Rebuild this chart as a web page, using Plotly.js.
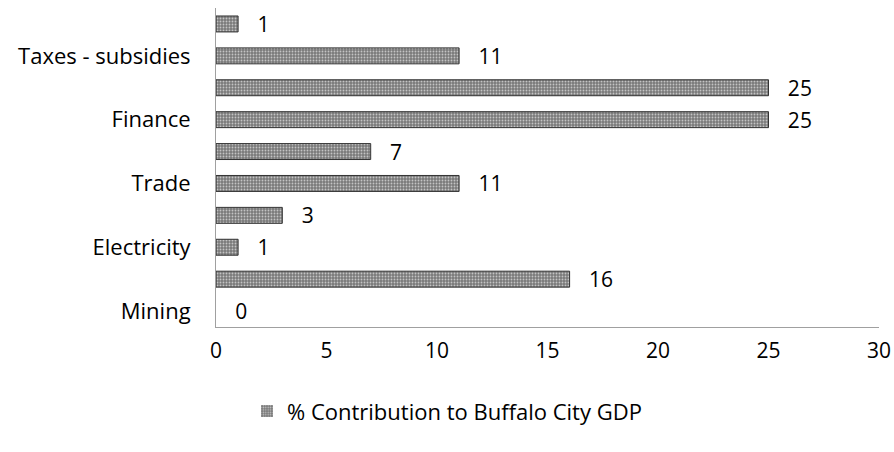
<!DOCTYPE html>
<html>
<head>
<meta charset="utf-8">
<script src="https://cdn.plot.ly/plotly-3.0.1.min.js"></script>
<style>html,body{margin:0;padding:0;background:#fff;}#chart{width:894px;height:452px;}</style>
</head>
<body>
<div id="chart"></div>
<script>
// Categories bottom -> top
const categories = ["Mining","Manufacturing","Electricity","Construction","Trade","Transport","Finance","Community services","Taxes - subsidies","Agriculture"];
const values = [0,16,1,3,11,7,25,25,11,1];
const shownLabels = ["Mining","Electricity","Trade","Finance","Taxes - subsidies"];
const xTicks = [0,5,10,15,20,25,30];
const seriesName = "% Contribution to Buffalo City GDP";

const font = "'Open Sans', sans-serif";

const trace = {
  type: "bar",
  orientation: "h",
  x: values,
  y: categories,
  name: seriesName,
  marker: {
    color: "#858585",
    line: {color: values.map(v => v === 0 ? "rgba(0,0,0,0)" : "#333333"), width: 1},
    pattern: {shape: ".", fgcolor: "#c4c4c4", bgcolor: "#7a7a7a", size: 3, solidity: 0.3, fillmode: "replace"}
  },
  text: values.map(v => "\u00a0\u00a0\u00a0" + v),
  texttemplate: "%{text}",
  textposition: "outside",
  constraintext: "none",
  cliponaxis: false,
  textfont: {family: font, size: 21, color: "#000"},
  showlegend: true
};

const layout = {
  width: 894, height: 452,
  margin: {l: 216, r: 15, t: 8, b: 125},
  paper_bgcolor: "#fff", plot_bgcolor: "#fff",
  bargap: 0.5,
  font: {family: font, size: 21, color: "#000"},
  xaxis: {
    range: [0, 30],
    tickvals: xTicks,
    showgrid: false,
    zeroline: false,
    showline: true,
    linecolor: "#a0a0a0",
    linewidth: 1,
    ticks: "",
    ticklabelstandoff: 5,
    tickfont: {family: font, size: 21, color: "#000"}
  },
  yaxis: {
    type: "category",
    categoryorder: "array",
    categoryarray: categories,
    tickvals: shownLabels,
    ticktext: shownLabels,
    showgrid: false,
    zeroline: false,
    showline: true,
    linecolor: "#a0a0a0",
    linewidth: 1,
    ticks: "",
    ticklabelstandoff: 20,
    tickfont: {family: font, size: 22, color: "#000"}
  },
  showlegend: true,
  legend: {
    orientation: "h",
    xref: "container", yref: "container",
    x: 0.5, xanchor: "center",
    y: 0.09, yanchor: "middle",
    itemwidth: 30,
    font: {family: font, size: 22, color: "#000"}
  }
};

Plotly.newPlot("chart", [trace], layout, {displayModeBar: false, staticPlot: true});
</script>
</body>
</html>
